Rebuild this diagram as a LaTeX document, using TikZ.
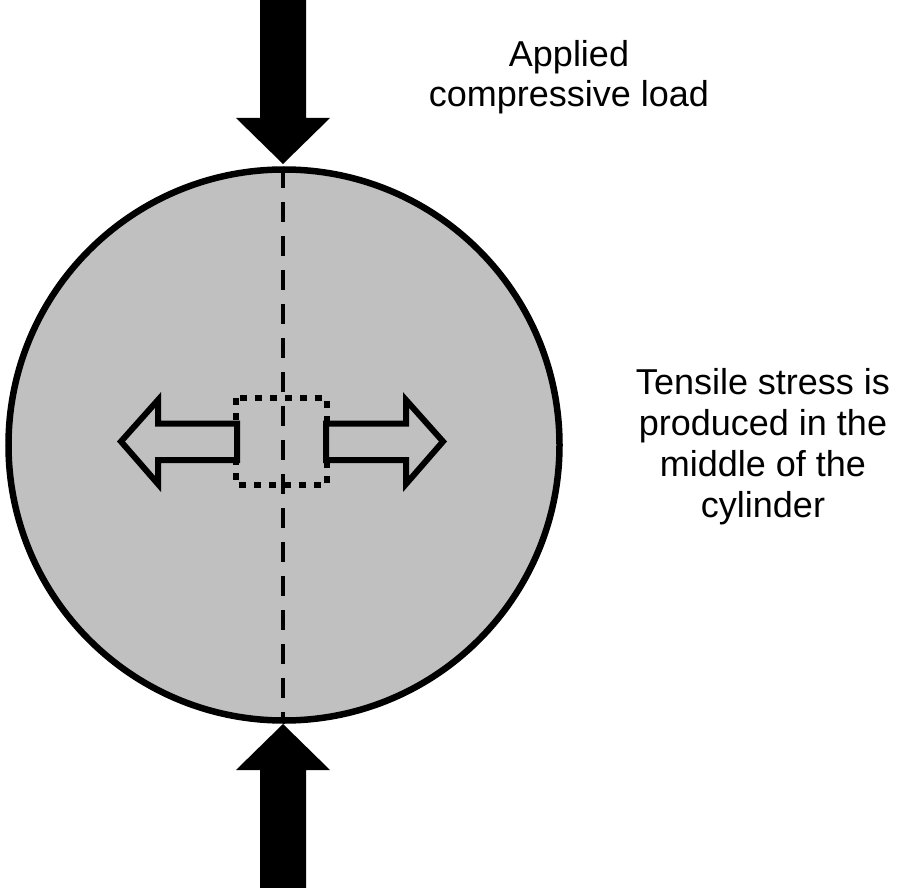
\documentclass[tikz,border=0pt]{standalone}
\usepackage{fontspec}
\setmainfont{Liberation Sans}
\definecolor{cylgray}{HTML}{C0C0C0}
\begin{document}
\begin{tikzpicture}[x=1pt,y=-1pt,
  loadarrow/.style={fill=black,draw=none},
  openarrow/.style={fill=cylgray,draw=black,line width=6,line join=miter},
  label/.style={align=center,inner sep=0,anchor=north,font=\fontsize{36}{40.5}\selectfont},
  cylstyle/.style={circle,fill=cylgray,draw=black,line width=6.5,minimum size=551,inner sep=0}]
\useasboundingbox (0,0) rectangle (897,888);
\node[cylstyle] (cyl) at (284,445) {};
\coordinate (ctop) at (283,168);
\coordinate (cbot) at (283,722);
\draw[line width=4,dash pattern=on 20 off 14] (ctop) -- (cbot);
% top load arrow
\fill[loadarrow] (260,0) -- (306,0) -- (306,118) -- (330,118) -- (283,164)
  -- (236,118) -- (260,118) -- cycle;
% bottom load arrow
\fill[loadarrow] (283,724) -- (330,770) -- (306,770) -- (306,888) -- (260,888)
  -- (260,770) -- (236,770) -- cycle;
% dotted element
\draw[line width=6,dash pattern=on 7 off 8] (236,398) rectangle (327,485);
% tensile arrows
\draw[openarrow] (237,423.5) -- (158,423.5) -- (158,400) -- (121,441.5) -- (158,484)
  -- (158,460) -- (237,460) -- cycle;
\draw[openarrow] (326,423.5) -- (406,423.5) -- (406,400) -- (443,441.5) -- (406,484)
  -- (406,460) -- (326,460) -- cycle;
\node[label] (load) at (569,40) {Applied\\compressive load};
\node[label,font=\fontsize{36}{41}\selectfont] (tens) at (763,368)
  {Tensile stress is\\produced in the\\middle of the\\cylinder};
\end{tikzpicture}
\end{document}
